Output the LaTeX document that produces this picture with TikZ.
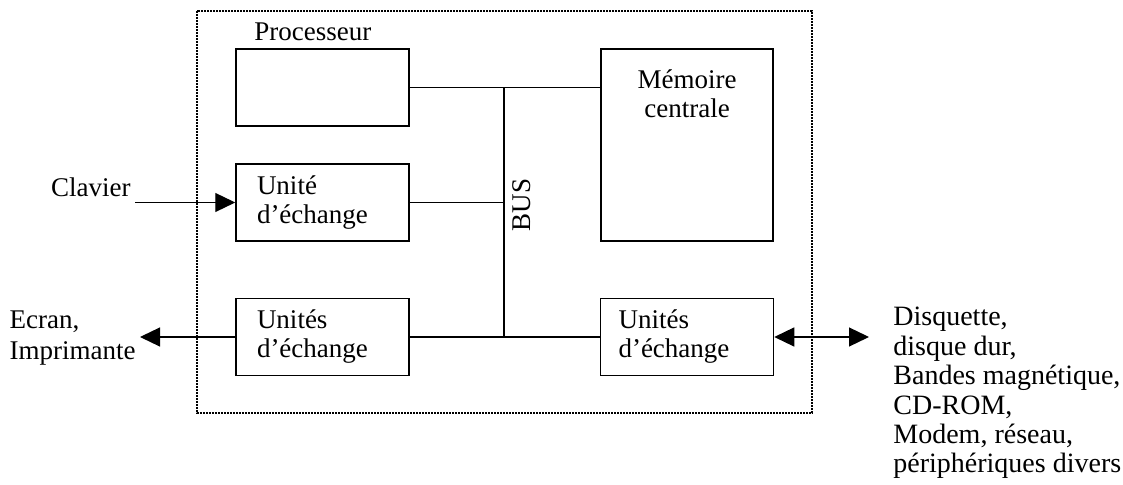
\documentclass[tikz,border=0pt]{standalone}
\usepackage{fontspec}
\setmainfont{Liberation Serif}
\usetikzlibrary{arrows.meta,calc,positioning}

\begin{document}
\begin{tikzpicture}[x=0.5pt,y=-0.5pt,
    every node/.style={font={\fontsize{13.5}{14.5}\selectfont}},
    unitbox/.style={draw,line width=0.75pt,minimum height=38.5pt,inner xsep=10.5pt,
      text width=65.5pt,align=left},
    ext/.style={inner sep=2pt,align=left},
    link/.style={line width=0.6pt},
    arr/.style={line width=0.6pt,-{Triangle[length=10pt,width=9.5pt]}},
    arrboth/.style={line width=0.6pt,{Triangle[length=10pt,width=9.5pt]}-{Triangle[length=10pt,width=9.5pt]}}]
    \useasboundingbox (0,0) rectangle (1123,485);
    % ordinateur
    \draw[line width=0.8pt,dash pattern=on 0.8pt off 0.7pt] (197,11) rectangle (812,413);
    \node[unitbox] (proc) at (322.5,87.5) {};
    \node[anchor=south west,xshift=6pt] (proclbl) at (proc.north west) {Processeur};
    \node[unitbox] (unite) at (322.5,202.5) {Unité\\d’échange};
    \node[unitbox] (outl) at (322.5,337) {Unités\\d’échange};
    \node[unitbox,inner xsep=9pt,text width=68.5pt] (outr) at (687,337) {Unités\\d’échange};
    \node[draw,line width=0.75pt,minimum width=86pt,minimum height=96pt] (mem) at (687,145) {};
    \node[anchor=north,align=center,yshift=-7pt] (memtxt) at (mem.north) {Mémoire\\centrale};
    % bus
    \coordinate (bustop) at (504,87.5);
    \coordinate (busbot) at (504,337);
    \draw[link] (bustop) -- (busbot);
    \draw[link] (proc.east) -- (proc.east -| mem.west);
    \draw[link] (unite.east) -- (unite.east -| bustop);
    \draw[link] (outl.east) -- (outr.west);
    \node[rotate=90] (buslbl) at (522,205) {BUS};
    % peripheriques
    \node[ext,anchor=base east] (clavier) at (135,197) {Clavier};
    \draw[arr] (clavier.east |- unite.west) -- (unite.west);
    \node[ext,anchor=east,font={\fontsize{13.5}{15.5}\selectfont}] (ecran) at (140,338) {Ecran,\\Imprimante};
    \draw[arr] (outl.west) -- (outl.west -| ecran.east);
    \node[ext,anchor=north west,font={\fontsize{14}{14.7}\selectfont}] (periph) at (889,303)
      {Disquette,\\disque dur,\\Bandes magnétique,\\CD-ROM,\\Modem, réseau,\\périphériques divers};
    \draw[arrboth] (outr.east) -- ([xshift=-10pt]periph.west |- outr.east);
\end{tikzpicture}
\end{document}
